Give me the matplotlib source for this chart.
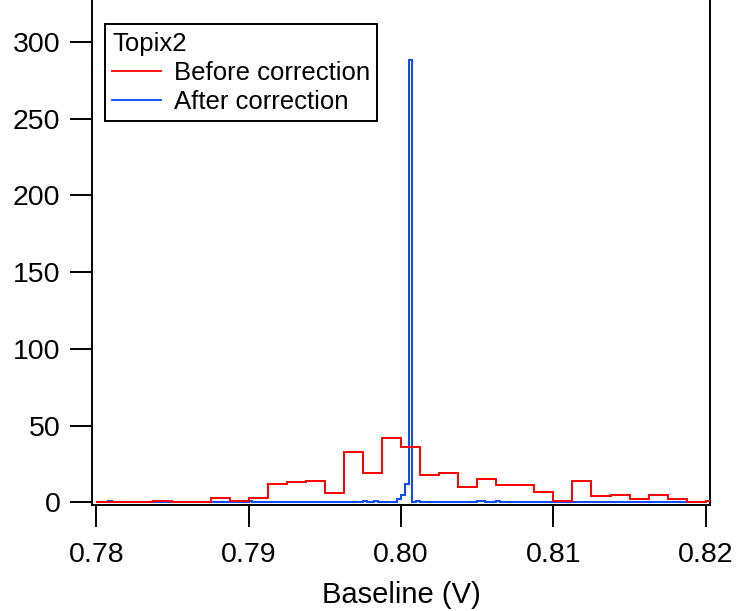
import numpy as np
import matplotlib
matplotlib.use("Agg")
import matplotlib.pyplot as plt

plt.rcParams["font.family"] = ["Liberation Sans", "DejaVu Sans"]

# ---------- data ----------
# red histogram: 0.00125 V bins from 0.78 (one extra bin past 0.82, clipped)
red_start = 0.78
red_width = 0.00125
red_counts = [0, 0, 0, 1, 0, 0, 3, 1, 3, 12, 13, 14, 6, 33, 19, 42,
              36, 18, 19, 10, 15, 11, 11, 7, 1, 14, 4, 5, 2, 5, 2, 0, 1]

# blue histogram: 0.00025 V bins from 0.78, only non-empty bins listed
blue_start = 0.78
blue_width = 0.00025
blue_nbins = 160
blue_bin_idx = [3, 40, 70, 73, 79, 80, 81, 82, 84, 100, 101, 105]
blue_bin_cnt = [1, 1, 1, 1, 2, 5, 12, 288, 1, 1, 1, 1]

xticks = [0.78, 0.79, 0.80, 0.81, 0.82]
yticks = [0, 50, 100, 150, 200, 250, 300]

red_edges = red_start + red_width * np.arange(len(red_counts) + 1)
blue_counts = np.zeros(blue_nbins)
blue_counts[blue_bin_idx] = blue_bin_cnt
blue_edges = blue_start + blue_width * np.arange(blue_nbins + 1)

# ---------- figure ----------
fig = plt.figure(figsize=(7.37, 6.11), dpi=100)
ax = fig.add_axes([0.1255, 0.1743, 0.8379, 0.8257])

ax.stairs(blue_counts, blue_edges, color="#0a46ff", lw=1.4, label="After correction", zorder=2)
ax.stairs(red_counts, red_edges, color="#ff0000", lw=1.4, label="Before correction", zorder=3)

ax.set_xlim(0.77975, 0.82028)
ax.set_ylim(-1.43, 327.2)
ax.set_xticks(xticks)
ax.set_xticklabels([f"{t:.2f}" for t in xticks])
ax.set_yticks(yticks)

ax.spines["top"].set_visible(False)
for s in ("left", "right", "bottom"):
    ax.spines[s].set_linewidth(1.4)
ax.tick_params(axis="both", direction="out", length=16, width=1.4, labelsize=20.5)
ax.tick_params(axis="y", pad=7)
ax.tick_params(axis="x", pad=11)
ax.set_xlabel("Baseline (V)", fontsize=21, labelpad=9.5)

handles, labels = ax.get_legend_handles_labels()
order = [1, 0]
leg = ax.legend([handles[i] for i in order], [labels[i] for i in order],
                title="Topix2", title_fontsize=18.5, fontsize=18.5,
                loc="upper left", bbox_to_anchor=(0.0202, 0.9518),
                borderaxespad=0, fancybox=False, edgecolor="black",
                framealpha=1, handlelength=1.9, handletextpad=0.5,
                borderpad=0.28, labelspacing=0.2, alignment="left")
leg.get_frame().set_linewidth(1.4)
for line in leg.get_lines():
    line.set_linewidth(1.3)

fig.savefig("out.png", dpi=100)
